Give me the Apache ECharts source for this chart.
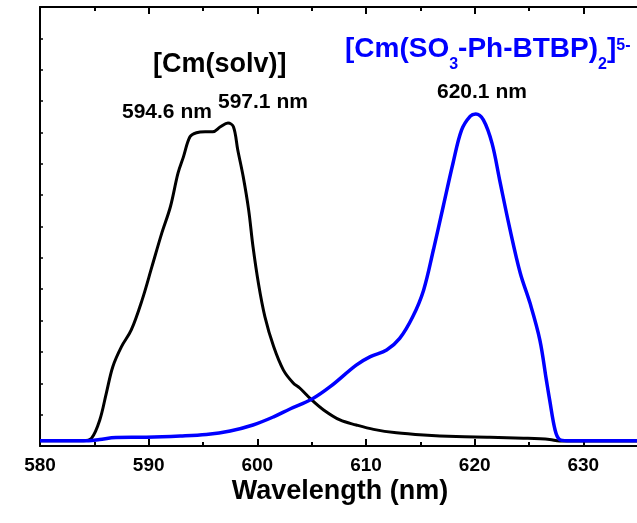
<!DOCTYPE html>
<html><head><meta charset="utf-8">
<script src="https://cdn.jsdelivr.net/npm/echarts@6/dist/echarts.min.js"></script>
<style>html,body{margin:0;padding:0;background:#fff;overflow:hidden}#c{width:637px;height:523px}</style>
</head><body><div id="c"></div>
<script>
// Wavelength (nm) / intensity (a.u.)
const solvX = [580,584.0,584.75,585.5,586.1,586.7,587.5,588.4,589.4,590.3,591.2,592.0,592.7,593.2,593.8,594.4,595.2,595.9,596.6,597.3,597.8,598.2,598.7,599.2,599.6,600.1,600.7,601.5,602.4,603.3,603.9,605.0,606.1,607.6,609.1,610.7,612.8,615.3,618.3,621.4,624.5,626.9,627.8,635];
const solvY = [0.017,0.017,0.025,0.083,0.168,0.253,0.317,0.370,0.466,0.572,0.678,0.763,0.870,0.922,0.986,0.999,1.002,1.002,1.018,1.030,1.018,0.944,0.859,0.753,0.636,0.519,0.412,0.317,0.242,0.201,0.185,0.147,0.115,0.083,0.067,0.053,0.042,0.035,0.030,0.028,0.025,0.021,0.016,0.016];
const btbpX = [580,584.5,585.5,587.0,589.8,592.9,595.3,597.5,599.6,601.5,603.0,605.0,606.7,609.1,610.4,611.9,613.1,614.3,615.3,616.2,617.1,618.0,618.8,619.6,620.1,620.8,621.6,622.3,623.2,624.2,625.1,626.0,626.6,626.9,627.4,627.8,628.5,640];
const btbpY = [0.017,0.017,0.021,0.027,0.028,0.032,0.037,0.048,0.067,0.093,0.118,0.149,0.189,0.258,0.285,0.306,0.343,0.412,0.497,0.625,0.763,0.901,1.008,1.052,1.059,1.040,0.965,0.848,0.699,0.551,0.455,0.338,0.210,0.147,0.051,0.021,0.017,0.017];
const xTicks = {min:580, max:640, step:10};
const peakLabels = ['594.6 nm','597.1 nm','620.1 nm'];
const xTitle = 'Wavelength (nm)';

const FONT = "'Liberation Sans', Arial, Helvetica, sans-serif";
const pairs = (xs, ys) => xs.map((x,i)=>[x, ys[i]]);
const chart = echarts.init(document.getElementById('c'), null, {renderer:'canvas'});
const axisCommon = {
  type:'value', min:xTicks.min, max:xTicks.max, interval:xTicks.step,
  axisLine:{show:true, onZero:false, lineStyle:{color:'#000', width:2}},
  axisTick:{show:true, inside:true, length:7, lineStyle:{color:'#000', width:2}},
  minorTick:{show:true, splitNumber:2, length:4, lineStyle:{color:'#000', width:2}},
  splitLine:{show:false}, minorSplitLine:{show:false}
};
chart.setOption({
  animation:false,
  backgroundColor:'#fff',
  grid:{left:40, width:652, top:7, height:439, containLabel:false, outerBoundsMode:'none'},
  xAxis:[
    Object.assign({}, axisCommon, {
      position:'bottom',
      axisLabel:{show:true, margin:10, fontFamily:FONT, fontWeight:'bold', fontSize:19, color:'#000'}
    }),
    Object.assign({}, axisCommon, {position:'top', axisLabel:{show:false}})
  ],
  yAxis:[{
    type:'value', min:0, max:1.4, interval:0.1,
    axisLine:{show:true, lineStyle:{color:'#000', width:2}},
    axisTick:{show:true, inside:true, length:3, lineStyle:{color:'#000', width:1.5}},
    axisLabel:{show:false}, splitLine:{show:false}
  }],
  series:[
    {type:'line', data:pairs(btbpX, btbpY), showSymbol:false, smooth:0.35,
     lineStyle:{color:'#0000ff', width:3.5}, z:3},
    {type:'line', data:pairs(solvX, solvY), showSymbol:false, smooth:0.35,
     lineStyle:{color:'#000', width:3}, z:2}
  ],
  graphic:[
    {type:'text', x:340, y:492, style:{text:xTitle, font:"bold 27px "+FONT, fill:'#000', align:'center', verticalAlign:'middle'}},
    {type:'text', left:153, top:51, style:{text:'[Cm(solv)]', font:"bold 27px "+FONT, fill:'#000'}},
    {type:'text', left:122, top:102, style:{text:peakLabels[0], font:"bold 21px "+FONT, fill:'#000'}},
    {type:'text', left:218, top:92, style:{text:peakLabels[1], font:"bold 21px "+FONT, fill:'#000'}},
    {type:'text', left:437, top:82, style:{text:peakLabels[2], font:"bold 21px "+FONT, fill:'#000'}},
    {type:'text', left:345, top:26, style:{
      text:'{m|[Cm(SO}{sub|3}{m|-Ph-BTBP)}{sub|2}{m|]}{sup|5-}',
      rich:{
        m:{fontFamily:FONT, fontWeight:'bold', fontSize:28, lineHeight:48, fill:'#0000ff', color:'#0000ff', verticalAlign:'middle'},
        sub:{fontFamily:FONT, fontWeight:'bold', fontSize:16, lineHeight:16, padding:[31,0,0,0], fill:'#0000ff', color:'#0000ff', verticalAlign:'middle'},
        sup:{fontFamily:FONT, fontWeight:'bold', fontSize:16, lineHeight:16, padding:[0,0,8,0], fill:'#0000ff', color:'#0000ff', verticalAlign:'middle'}
      }
    }}
  ]
});
</script></body></html>
